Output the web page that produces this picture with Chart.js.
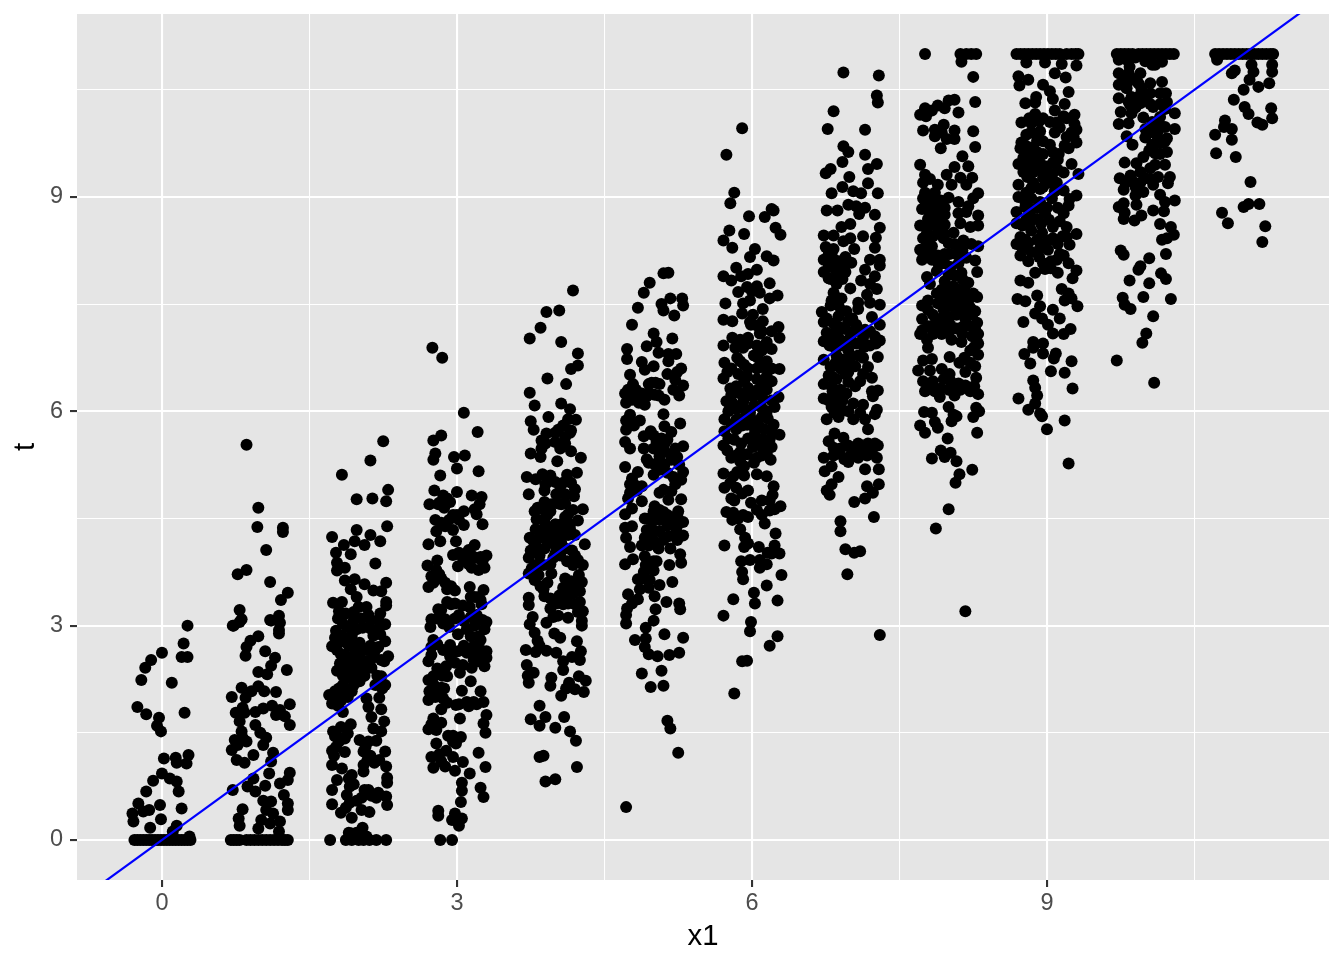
<!DOCTYPE html>
<html>
<head>
<meta charset="utf-8">
<title>t vs x1</title>
<script src="https://cdn.jsdelivr.net/npm/chart.js@4"></script>
<style>
  html, body { margin: 0; padding: 0; background: #fff; }
  canvas { display: block; }
</style>
</head>
<body>
<canvas id="chart" width="1344" height="960"></canvas>
<script>
// points, one list per x1 group: [x1 + jitter, t]
const group0 = [[.26,3],[.22,2.75],[.2,2.56],[.26,2.56],[0,2.62],[-.11,2.52],[-.17,2.41],[-.21,2.24],[.1,2.2],[-.25,1.86],[-.16,1.76],[-.03,1.71],[-.05,1.6],[-.01,1.52],[.23,1.78],[.27,1.19],[.14,1.15],[.02,1.14],[.15,1.08],[.25,1.07],[0,.93],[-.09,.83],[.08,.86],[.15,.82],[.17,.68],[-.16,.68],[-.24,.51],[-.02,.49],[.2,.44],[-.3,.37],[-.13,.42],[-.19,.4],[-.29,.26],[-.01,.29],[-.12,.17],[.15,.2],[.11,.12],[.28,.05],
  [-.28,0],[-.25,0],[-.22,0],[-.19,0],[-.16,0],[-.13,0],[-.1,0],[-.07,0],[-.04,0],[-.01,0],[.02,0],[.05,0],[.08,0],[.11,0],[.14,0],[.17,0],[.2,0],[.23,0],[.26,0],[.29,0]];
const group1 = [[.86,5.53],[.98,4.65],[.97,4.38],[1.23,4.37],[1.23,4.31],[1.06,4.06],[.77,3.72],[.86,3.78],[1.1,3.61],[1.28,3.46],[1.21,3.36],[.79,3.22],[.73,3],[.79,3.05],[1.1,3.08],[1.17,3.08],[1.19,2.94],[.72,3],[.81,3.09],[1.19,3.14],[1.11,3.07],[1.2,3.04],[1.19,2.89],[.98,2.85],[.9,2.79],[.86,2.7],[.85,2.58],[1.05,2.64],[1.15,2.55],[1.11,2.44],[1.27,2.38],[.98,2.35],[1.07,2.32],[.81,2.13],[.98,2.15],[.91,2.08],[1.04,2.08],[1.16,2.07],[.71,2],[.85,1.99],[1.3,1.9],[1.12,1.88],[1.03,1.84],[.95,1.79],[.82,1.85],[.75,1.78],[1.2,1.82],[1.25,1.73],[1.3,1.61],[1.16,1.75],[.79,1.66],[.84,1.78],[.95,1.61],[.81,1.52],[.74,1.4],[.82,1.43],[.77,1.33],[.86,1.38],[1,1.5],[1.06,1.43],[1.03,1.33],[.71,1.26],[.93,1.19],[.76,1.12],[.84,1.08],[1.13,1.22],[1.11,1.1],[1.09,.93],[1.3,.94],[1.28,.84],[1.2,.79],[.93,.86],[.87,.75],[1.05,.76],[.95,.68],[.72,.7],[1.24,.63],[1.03,.55],[1.11,.54],[1.28,.51],[.82,.43],[1.06,.42],[1.28,.42],[1.13,.37],[.78,.3],[.79,.2],[1.2,.26],[1.01,.28],[.98,.16],[1.1,.23],[1.19,.12],
  [.7,0],[.73,0],[.76,0],[.79,0],[.86,0],[.9,0],[.94,0],[.98,0],[1.02,0],[1.06,0],[1.1,0],[1.14,0],[1.18,0],[1.22,0],[1.25,0],[1.28,0]];
const group2 = [[2.25,5.58],[2.12,5.31],[1.83,5.11],[2.3,4.9],[1.98,4.77],[2.14,4.78],[2.28,4.74],[2.29,4.39],[1.73,4.24],[1.98,4.34],[2.12,4.27],[1.96,4.18],[1.85,4.13],[2.06,4.13],[2.22,4.18],[1.77,4.02],[1.92,4],[2.17,3.87],[1.78,3.88],[1.86,3.81],[1.78,3.77],[1.86,3.63],[1.96,3.65],[2.06,3.58],[2.28,3.6],[1.92,3.51],[2.15,3.49],[2.23,3.48],[1.98,3.4],[1.74,3.32],[1.83,3.33],[2.28,3.33],[2,3.26],[2.08,3.26],[2.28,3.28],[2.22,3.17],[2.1,3.15],[1.79,3.1],[1.95,3.07],[2.27,3.02],[1.77,2.93],[1.88,2.98],[1.98,2.95],[2.2,2.95],[1.83,2.86],[1.93,2.86],[2.15,2.86],[2.27,2.78],[1.73,2.71],[1.79,2.76],[1.88,2.76],[2.01,2.76],[2.08,2.66],[2.17,2.66],[1.86,2.59],[1.95,2.59],[2.01,2.57],[2.3,2.57],[2.23,2.52],[2.12,2.52],[1.93,2.48],[2,2.45],[1.78,2.37],[1.88,2.38],[2.13,2.41],[1.95,2.34],[1.88,2.27],[2.01,2.22],[2.23,2.29],[2.27,2.17],[2.17,2.17],[1.84,2.17],[1.95,2.17],[1.74,2],[1.89,2],[2.08,1.98],[2.21,1.99],[1.73,1.91],[1.79,1.88],[1.84,1.79],[2.1,1.86],[2.23,1.83],[2.13,1.72],[2.26,1.66],[1.74,1.52],[1.89,1.49],[2.15,1.56],[2.23,1.52],[2.01,1.4],[1.79,1.44],[2.18,1.39],[2.1,1.38],[1.73,1.25],[1.86,1.23],[2.05,1.24],[2.27,1.24],[1.73,1.05],[1.83,1],[2.16,1.08],[2.05,1.05],[2.28,1.03],[2.05,.96],[1.93,.91],[1.78,.84],[2.29,.87],[2.29,.8],[1.91,.75],[1.73,.7],[2.06,.7],[1.88,.63],[2.18,.59],[2.28,.61],[1.73,.5],[1.91,.52],[2.03,.59],[2.29,.49],[2.03,.42],[2.11,.39],[1.82,.38],[1.93,.31],[2.04,.17],[1.93,.09],
  [1.71,0],[1.87,0],[1.93,0],[2,0],[2.05,0],[2.11,0],[2.18,0],[2.28,0],
  [1.8,3.2],[1.87,3.17],[1.95,3.19],[2.03,3.1],[2.12,3.08],[2.2,3.08],[1.84,3.03],[1.92,2.98],[2.04,2.97],[2.12,2.96],[2.22,2.88],[1.76,2.83],[1.83,2.78],[1.9,2.72],[1.97,2.72],[2.04,2.68],[2.12,2.72],[2.2,2.7],[1.78,2.66],[1.82,2.6],[1.89,2.52],[1.98,2.52],[2.06,2.5],[2.16,2.56],[2.26,2.5],[1.81,2.47],[1.86,2.42],[1.94,2.41],[2.02,2.38],[2.08,2.42],[1.84,2.3],[1.92,2.3],[1.98,2.27],[2.06,2.3],[2.19,2.3],[1.76,2.08],[1.8,2.12],[1.86,2.1],[1.93,2.08],[2.24,2.12],[1.78,2],[1.82,1.95],[1.7,2.03],[1.92,1.62],[1.82,1.58],[1.76,1.45],[1.8,1.38],[1.86,1.42],[2.07,1.3],[2.12,1.18],[2.09,1.12],[2.21,1.12],[1.75,1.18],[1.77,1.3],[1.9,.86],[1.95,.78],[2.1,.7],[2.13,.62],[2.2,.66],[1.98,.55],[1.87,.45],[1.98,.1],[2.08,.05],[1.9,.1]];
const group3 = [[2.75,6.89],[2.85,6.75],[3.07,5.98],[3.21,5.71],[2.84,5.66],[2.76,5.59],[2.78,5.41],[2.76,5.32],[2.97,5.36],[3.08,5.38],[3,5.2],[3.22,5.16],[2.83,5.1],[2.77,4.89],[3,4.87],[3.15,4.82],[2.86,4.82],[3.25,4.8],[2.72,4.7],[2.81,4.7],[2.93,4.73],[3.23,4.7],[3.18,4.63],[3.07,4.6],[2.96,4.55],[3.2,4.56],[2.78,4.48],[3.07,4.41],[3.26,4.42],[2.88,4.39],[2.96,4.34],[2.79,4.32],[2.71,4.14],[2.83,4.18],[2.99,4.18],[3.18,4.13],[2.96,3.99],[3.12,4.06],[3.3,3.98],[3.05,3.97],[3.2,3.95],[2.8,3.91],[2.7,3.84],[3.01,3.83],[3.15,3.81],[3.28,3.81],[2.79,3.78],[2.84,3.66],[2.74,3.69],[2.71,3.54],[2.9,3.51],[2.98,3.49],[3.13,3.54],[3.27,3.5],[3.22,3.4],[2.9,3.33],[2.98,3.31],[3.13,3.26],[2.81,3.23],[3.25,3.3],[2.74,3.09],[2.88,3.09],[3.3,3.05],[2.73,2.98],[3.07,3.06],[3.28,2.95],[3.18,3],[3.01,2.88],[3.22,2.85],[2.76,2.8],[2.93,2.73],[3.17,2.71],[3.3,2.64],[2.74,2.59],[3.01,2.64],[3.3,2.55],[2.71,2.5],[2.93,2.57],[3.17,2.52],[3.06,2.45],[3.28,2.43],[2.89,2.43],[3.15,2.41],[3.03,2.34],[2.76,2.29],[2.9,2.29],[2.71,2.24],[3.14,2.22],[2.84,2.13],[2.76,2.1],[2.71,1.96],[3.05,2.09],[3.24,2.08],[2.86,1.98],[2.78,2],[2.99,1.89],[3.1,1.93],[3.17,1.93],[3.27,1.93],[2.84,1.83],[3.3,1.75],[3.03,1.7],[3.27,1.63],[2.76,1.7],[2.84,1.64],[2.71,1.55],[2.79,1.54],[3.29,1.5],[2.91,1.46],[2.96,1.46],[3.04,1.44],[2.99,1.35],[2.79,1.35],[2.89,1.25],[3.22,1.22],[2.74,1.16],[2.96,1.16],[3.06,1.09],[2.76,1.01],[2.88,1.03],[3.29,1.02],[2.98,.97],[3.13,.93],[3.05,.8],[3.24,.73],[3.05,.69],[3.27,.6],[3.04,.53],[2.81,.41],[2.81,.34],[2.98,.37],[3.05,.3],[3.02,.2],[2.95,.28],[2.83,0],[2.95,0],
  [2.82,4.72],[2.9,4.78],[2.87,4.65],[3,4.55],[3.02,4.48],[2.84,4.44],[2.92,4.48],[3.14,4],[3.08,3.92],[3.02,4.02],[3.26,3.9],[3.24,3.96],[3.12,3.86],[3.22,3.78],[2.88,3.6],[2.94,3.55],[2.82,3.72],[2.76,3.6],[3.18,3.4],[3.24,3.36],[3.14,3.4],[2.84,3.22],[2.94,3.3],[3.06,3.28],[3.02,3.15],[2.98,3.1],[3.14,3.12],[3.2,3.15],[3.26,3.08],[2.8,3.1],[2.86,3.03],[2.92,2.98],[3.1,2.95],[3.14,2.85],[3.24,2.8],[2.8,2.74],[2.86,2.66],[2.74,2.7],[3.07,2.72],[3.1,2.62],[3.2,2.6],[3.24,2.66],[2.96,2.62],[3.22,2.5],[2.98,2.48],[2.8,2.4],[2.85,2.3],[2.76,2.18],[2.72,2.08],[2.82,2.05],[2.87,2.12],[2.9,1.92],[3.02,1.9],[3.12,1.87],[3.2,1.9],[2.74,1.62],[2.96,1.38],[2.82,1.2],[2.84,1.1]];
const group4 = [[4.18,7.69],[3.91,7.39],[4.04,7.41],[3.85,7.17],[3.74,7.02],[4.06,6.97],[4.23,6.81],[4.23,6.64],[4.16,6.59],[3.92,6.46],[4.11,6.38],[3.74,6.26],[3.79,6.08],[4.06,6.11],[4.15,6.03],[3.93,5.92],[3.75,5.86],[4.21,5.88],[4.13,5.89],[3.78,5.74],[4.03,5.74],[4.16,5.73],[3.91,5.69],[4,5.57],[4.1,5.64],[3.86,5.59],[4.05,5.48],[3.75,5.41],[3.86,5.48],[4.16,5.44],[3.85,5.36],[4.26,5.35],[4.22,5.14],[3.71,5.08],[3.87,5.12],[3.8,5.05],[4.12,5.11],[4,5.01],[4.08,5],[4.2,4.91],[3.89,4.89],[3.73,4.84],[4.01,4.84],[4.1,4.84],[4.19,4.81],[3.89,4.73],[4.03,4.71],[4.1,4.71],[4.28,4.63],[3.79,4.6],[3.88,4.62],[3.95,4.6],[4.13,4.56],[3.81,4.49],[3.89,4.49],[4.23,4.47],[4,4.42],[4.06,4.42],[4.15,4.42],[3.86,4.34],[4.13,4.27],[3.74,4.23],[3.84,4.23],[3.95,4.25],[4.2,4.27],[4.03,4.19],[4.3,4.14],[3.81,4.1],[3.89,4.08],[4.1,4.08],[3.73,3.95],[3.84,3.98],[4,4.01],[4.2,3.98],[4.23,3.92],[4.12,3.9],[3.95,3.86],[3.73,3.73],[3.83,3.71],[3.96,3.73],[4.24,3.71],[4.1,3.66],[3.79,3.64],[4.27,3.61],[4.08,3.53],[3.88,3.51],[4.17,3.51],[4.25,3.48],[3.73,3.39],[3.89,3.41],[4.12,3.44],[3.73,3.29],[4.25,3.33],[4.01,3.31],[4.13,3.31],[3.95,3.24],[4.23,3.19],[4.03,3.14],[4.13,3.11],[3.91,3.04],[4.27,3.07],[4.27,3],[3.74,3.02],[3.79,2.9],[3.99,2.89],[4.05,2.83],[3.82,2.79],[3.7,2.66],[3.8,2.63],[3.91,2.65],[4.01,2.62],[4.26,2.64],[4.17,2.56],[4.25,2.52],[3.71,2.45],[3.78,2.34],[4.08,2.38],[3.73,2.2],[3.96,2.27],[4.24,2.29],[4.31,2.23],[3.95,2.16],[4.11,2.12],[4.2,2.11],[4.29,2.07],[4.06,2.02],[3.84,1.88],[3.75,1.69],[3.9,1.72],[4.09,1.72],[3.84,1.6],[4,1.57],[4.15,1.52],[4.21,1.39],[3.84,1.16],[3.88,1.18],[4.22,1.02],[4,.85],[3.9,.82],
  [4,5.7],[4.15,5.7],[4.08,5.8],[3.9,5.55],[4.1,5.55],[4.02,5.3],[3.95,5.1],[4.16,5],[3.9,4.98],[4.05,4.95],[3.82,4.65],[3.92,4.55],[3.96,4.7],[4.06,4.7],[4.18,4.62],[4.1,4.52],[3.9,4.4],[3.97,4.35],[4.05,4.3],[3.8,4.35],[3.86,4.3],[4.15,4.35],[3.92,4.18],[4,4.12],[4.06,4.16],[3.78,4.18],[3.75,4.05],[3.84,4.05],[4.17,4.05],[4.05,3.98],[3.98,3.95],[4.28,3.85],[4.18,3.85],[3.88,3.85],[3.8,3.85],[3.76,3.8],[4.16,3.62],[4.24,3.58],[3.85,3.55],[3.92,3.6],[4.18,3.45],[4.04,3.42],[3.95,3.38],[4.08,3.3],[4.2,3.3],[4.28,3.2],[3.98,3.12],[3.77,3.12],[3.84,2.72],[4.22,2.78],[4.08,2.5],[3.72,2.3],[4.14,2.2]];
const group5 = [[5.15,7.94],[5.1,7.93],[4.96,7.8],[4.9,7.66],[4.84,7.45],[4.78,7.21],[5.08,7.5],[5.17,7.58],[5.29,7.58],[5.1,7.41],[5.3,7.48],[5.21,7.34],[5,7.09],[5.19,7.02],[5.03,6.97],[4.93,6.91],[4.73,6.87],[4.73,6.73],[5.05,6.82],[5.15,6.8],[5.23,6.8],[4.88,6.69],[5.15,6.7],[5,6.63],[5.28,6.6],[4.91,6.58],[4.76,6.51],[5.22,6.44],[4.95,6.38],[5.06,6.38],[5.3,6.36],[4.79,6.38],[4.71,6.25],[5.26,6.22],[4.83,6.23],[4.93,6.21],[5.01,6.23],[5.11,6.16],[4.72,6.12],[4.78,6.16],[4.91,6.09],[5.1,5.96],[4.72,5.87],[4.86,5.87],[4.78,5.85],[5.27,5.83],[5.11,5.79],[4.72,5.74],[4.97,5.72],[5.18,5.71],[4.9,5.65],[4.71,5.57],[5.03,5.57],[5.11,5.55],[5.3,5.51],[4.76,5.48],[4.9,5.48],[5.22,5.48],[5.17,5.4],[4.93,5.33],[5.06,5.37],[4.71,5.22],[5.01,5.26],[5.11,5.26],[4.84,5.15],[5.3,5.15],[5,5.11],[5.2,5.08],[4.78,5.06],[5.28,5.04],[4.76,4.98],[5.22,4.98],[4.76,4.86],[4.83,4.89],[5.06,4.86],[5.28,4.77],[4.88,4.74],[5.15,4.76],[5.01,4.67],[4.78,4.64],[4.71,4.56],[5.25,4.6],[5.1,4.59],[4.91,4.5],[5,4.47],[5.17,4.45],[5.3,4.45],[4.71,4.37],[4.78,4.39],[4.93,4.34],[5.06,4.32],[5.23,4.32],[4.72,4.23],[4.91,4.23],[5,4.19],[5.15,4.25],[5.3,4.26],[4.76,4.1],[5.05,4.08],[5.17,4.08],[4.91,3.97],[5.27,4],[4.79,3.93],[4.71,3.86],[5.28,3.88],[5.03,3.9],[5.16,3.85],[4.9,3.75],[5,3.77],[4.9,3.66],[5.19,3.61],[5.06,3.57],[4.86,3.51],[4.95,3.53],[4.74,3.44],[5.01,3.41],[4.84,3.37],[5.13,3.33],[5.26,3.31],[4.78,3.31],[4.73,3.24],[5.27,3.23],[5.02,3.23],[4.72,3.15],[4.72,3.03],[5,3.07],[4.92,2.97],[5.11,2.88],[5.3,2.83],[4.81,2.8],[4.92,2.82],[4.91,2.7],[4.95,2.6],[5.26,2.62],[5.16,2.59],[5.04,2.57],[5.08,2.37],[4.88,2.33],[5.1,2.16],[4.97,2.14],[5.14,1.67],[5.17,1.56],[5.25,1.22],[4.72,.46],
  [4.74,6.3],[4.82,6.3],[4.88,6.25],[4.96,6.25],[5.05,6.22],[4.75,6.2],[4.85,6.12],[4.98,6.4],[5.02,6.4],[5.14,6.52],[5.24,6.55],[5.2,6.3],[4.76,5.95],[4.8,5.8],[5,5.66],[5.08,5.62],[5.14,5.6],[5,5.48],[5.1,5.48],[5.2,5.4],[4.95,5.28],[5.26,5.25],[5.18,5.32],[5.24,5.36],[5.06,5.18],[5.14,5.14],[4.8,4.98],[4.88,4.95],[4.74,4.78],[5.1,4.9],[5.18,4.88],[5.06,4.62],[5.14,4.55],[5.24,4.55],[4.95,4.5],[5,4.6],[5.14,4.4],[5.24,4.4],[4.98,4.36],[5.06,4.48],[4.96,4.25],[5.1,4.2],[4.88,4.12],[4.95,4.12],[5.24,4.2],[5,3.9],[4.92,3.85],[4.96,3.64],[4.84,3.65]];
const group6 = [[5.9,9.96],[5.74,9.59],[5.82,9.06],[5.78,8.91],[6.2,8.83],[5.97,8.73],[6.13,8.72],[6.22,8.81],[6.24,8.57],[5.77,8.53],[5.92,8.48],[6.29,8.47],[5.71,8.39],[5.8,8.29],[6.03,8.27],[5.98,8.16],[6.15,8.17],[6.22,8.11],[5.84,8.01],[5.71,7.89],[6.05,7.98],[5.96,7.92],[5.79,7.83],[5.89,7.89],[6.18,7.79],[5.86,7.67],[6.08,7.66],[6.26,7.62],[6.18,7.58],[5.98,7.55],[5.73,7.51],[5.91,7.51],[6.11,7.43],[6.01,7.35],[5.9,7.37],[5.71,7.28],[5.8,7.26],[6.11,7.26],[5.99,7.21],[6.27,7.18],[6.2,7.12],[6.28,7.03],[6.08,7.09],[5.8,7.03],[5.96,7.03],[6.15,6.97],[5.71,6.92],[5.83,6.89],[5.91,6.89],[6.05,6.92],[6.2,6.87],[6.06,6.75],[6.15,6.7],[5.72,6.68],[5.88,6.7],[5.79,6.6],[6.28,6.59],[5.96,6.6],[6.05,6.6],[5.71,6.46],[5.86,6.52],[6.15,6.49],[5.95,6.49],[5.84,6.35],[6.13,6.38],[5.96,6.33],[6.27,6.2],[5.79,6.23],[5.74,6.14],[5.91,6.13],[6.01,6.21],[6.11,6.18],[6.2,6.15],[6.23,6.06],[5.78,6.06],[5.84,6.03],[6.15,6],[5.72,5.89],[5.88,5.89],[5.98,5.92],[6.1,5.92],[5.79,5.81],[6.22,5.81],[5.95,5.81],[5.72,5.72],[5.84,5.75],[6.13,5.75],[6.28,5.67],[6.03,5.69],[6.18,5.61],[5.71,5.52],[5.89,5.55],[6.01,5.5],[6.11,5.61],[5.79,5.35],[5.88,5.43],[6.15,5.41],[6.05,5.35],[6.19,5.32],[5.92,5.23],[5.71,5.13],[5.81,5.09],[6.05,5.12],[6.15,5.09],[5.72,4.93],[5.84,4.93],[5.96,4.89],[6.22,4.95],[6.21,4.83],[5.79,4.78],[5.99,4.72],[6.1,4.75],[6.29,4.67],[5.74,4.59],[5.81,4.58],[5.91,4.55],[5.96,4.52],[6.18,4.61],[6.23,4.63],[6.13,4.43],[5.88,4.35],[5.93,4.23],[6.24,4.29],[5.96,4.15],[5.72,4.12],[6.07,4.1],[6.23,4.12],[6.28,4.01],[6.2,4.01],[5.89,3.9],[5.98,3.92],[6.08,3.92],[6.15,3.86],[6.08,3.81],[5.9,3.75],[5.91,3.65],[6.3,3.71],[6.15,3.56],[6.02,3.46],[5.81,3.37],[6.26,3.35],[6.03,3.31],[5.71,3.14],[5.99,3.05],[5.98,2.92],[6.26,2.85],[6.18,2.72],[5.95,2.51],[5.9,2.5],[5.82,2.05],
  [5.95,7.74],[6.05,7.75],[6,7.68],[5.98,7.25],[6.05,7.2],[6.1,7.12],[5.88,7],[5.96,6.95],[6.1,6.85],[6.02,6.78],[5.85,6.75],[5.92,6.65],[6.1,6.62],[6.2,6.6],[5.75,6.55],[5.92,6.42],[6.05,6.45],[6.2,6.42],[5.78,6.32],[6.06,6.3],[6.15,6.3],[5.88,6.25],[5.96,6.22],[5.8,6.12],[5.93,6.02],[6.02,6.08],[6.1,6.05],[5.76,6],[5.98,5.98],[6.04,5.86],[6.16,5.9],[5.84,5.88],[5.9,5.8],[6.02,5.78],[6.08,5.78],[6.2,5.72],[5.76,5.62],[5.82,5.6],[5.96,5.62],[6.04,5.6],[6.1,5.5],[6.2,5.5],[5.75,5.45],[5.84,5.38],[5.95,5.4],[6.1,5.38],[6.02,5.28],[5.88,5.3],[5.85,5.15],[5.92,5.1],[5.78,5],[5.9,4.85],[5.82,4.75],[6.18,4.75],[6.05,4.62],[6.1,4.55],[5.86,4.5],[5.8,4.48],[6.16,4.02],[5.92,4.1]];
const group7 = [[6.93,10.74],[7.29,10.7],[7.27,10.42],[7.28,10.32],[6.83,10.2],[6.77,9.95],[7.15,9.94],[6.93,9.71],[6.98,9.63],[7.15,9.59],[6.92,9.49],[7.27,9.46],[7.18,9.39],[6.8,9.39],[6.75,9.33],[6.99,9.28],[7.18,9.19],[6.92,9.14],[6.81,9.05],[7.03,9.08],[7.11,9.05],[7.28,9.05],[6.98,8.89],[7.06,8.87],[7.15,8.85],[6.76,8.81],[6.87,8.81],[7.25,8.75],[7.09,8.76],[7,8.62],[6.91,8.58],[7.3,8.57],[6.73,8.46],[6.83,8.46],[7.13,8.45],[7,8.42],[7.26,8.43],[6.93,8.38],[7.25,8.29],[6.83,8.27],[7.04,8.27],[6.95,8.16],[6.73,8.12],[7.2,8.12],[7.3,8.12],[7.01,8.08],[6.73,7.95],[6.83,8.01],[7.15,7.98],[7.3,8.04],[6.86,7.89],[6.95,7.95],[6.78,7.86],[7.25,7.89],[7.11,7.83],[7.2,7.78],[7,7.72],[6.83,7.66],[7.27,7.71],[6.91,7.58],[7.17,7.63],[7.08,7.52],[6.81,7.55],[7.2,7.52],[7.3,7.49],[6.71,7.39],[6.91,7.41],[7.08,7.43],[7.22,7.32],[6.73,7.25],[6.83,7.23],[6.98,7.26],[7.06,7.21],[7.3,7.21],[6.89,7.18],[7.2,7.12],[6.73,6.98],[6.88,7.03],[7,7.03],[7.13,7.03],[7.3,6.99],[6.79,6.92],[6.93,6.92],[7.2,6.92],[6.73,6.72],[7.28,6.76],[6.86,6.78],[7.13,6.75],[6.96,6.69],[7.05,6.63],[6.81,6.49],[7.13,6.52],[6.95,6.52],[7.22,6.47],[6.73,6.38],[6.98,6.41],[7.05,6.35],[6.81,6.35],[7.28,6.29],[7.22,6.28],[6.73,6.18],[6.88,6.21],[7.23,6.21],[7.03,6.11],[7.13,6.09],[6.81,6.06],[7.27,6.02],[6.93,6.01],[6.76,5.89],[7.03,5.89],[6.88,5.92],[7.15,5.89],[7.25,5.96],[7.18,5.75],[6.84,5.69],[6.93,5.63],[6.78,5.58],[7.25,5.55],[7.08,5.55],[7.18,5.55],[6.98,5.52],[6.83,5.49],[7.28,5.52],[6.89,5.41],[7.05,5.43],[6.73,5.35],[6.83,5.38],[7.17,5.38],[7.27,5.35],[6.98,5.29],[6.74,5.16],[6.81,5.23],[7.15,5.19],[7.29,5.19],[6.88,5.08],[6.81,4.98],[7.29,4.98],[6.76,4.89],[7.17,4.95],[6.79,4.83],[7.23,4.86],[7.15,4.78],[7.04,4.73],[7.24,4.52],[6.9,4.46],[6.9,4.32],[6.95,4.07],[7.04,4.02],[7.1,4.04],[6.97,3.72],[7.3,2.87],
  [6.75,8.3],[6.78,8.2],[6.82,8.15],[6.88,8.1],[6.78,8.02],[6.88,7.98],[6.95,8.05],[6.8,7.85],[6.86,7.78],[6.92,7.85],[6.85,7.6],[6.88,7.48],[6.8,7.48],[6.76,7.3],[6.88,7.33],[6.96,7.4],[7.02,7.3],[6.85,7.12],[6.95,7.15],[7.05,7.12],[7.15,7.14],[7.25,7.05],[6.76,7.1],[6.82,7],[6.96,6.98],[7.06,6.95],[7.14,6.9],[7.26,6.95],[6.85,6.88],[6.98,6.85],[6.92,6.72],[7,6.75],[7.08,6.78],[6.85,6.68],[6.8,6.62],[6.9,6.6],[6.98,6.55],[7.18,6.62],[6.78,6.5],[7.1,6.42],[6.86,6.45],[6.82,6.28],[6.9,6.3],[6.96,6.25],[6.78,6.15],[6.86,6.1],[6.92,6.15],[6.84,5.98],[6.98,6],[7.1,5.98],[6.9,5.48],[7.12,5.48],[7,5.38],[7.08,5.35],[6.94,5.33],[7.22,5.42]];
const group8 = [[7.76,11],[8.12,11],[8.18,11],[8.23,11],[8.28,11],[8.13,10.89],[8.25,10.68],[8.06,10.36],[8,10.35],[8.27,10.33],[7.76,10.24],[7.89,10.28],[7.96,10.24],[7.83,10.21],[7.71,10.15],[7.77,10.13],[8.1,10.18],[7.95,10.01],[7.74,9.93],[7.86,9.94],[8.06,9.93],[8.25,9.92],[7.93,9.9],[7.86,9.85],[7.98,9.81],[8.06,9.81],[8.27,9.7],[7.92,9.68],[8.14,9.57],[7.71,9.45],[8.06,9.42],[8.2,9.43],[7.76,9.31],[7.98,9.31],[8.24,9.27],[8.12,9.27],[7.81,9.25],[7.74,9.2],[7.89,9.17],[8.03,9.17],[8.18,9.17],[7.76,9.06],[8.3,9.05],[7.86,9.06],[8.25,8.98],[8,8.99],[7.74,8.98],[7.89,8.9],[8.1,8.93],[8.2,8.87],[7.73,8.83],[7.81,8.82],[7.96,8.85],[8.1,8.77],[8.3,8.74],[8.18,8.79],[7.89,8.69],[7.79,8.69],[7.71,8.6],[7.84,8.61],[7.96,8.61],[8.3,8.6],[8.12,8.63],[8.22,8.58],[7.78,8.5],[7.89,8.5],[8.05,8.5],[7.74,8.42],[7.95,8.42],[8.15,8.39],[7.71,8.26],[7.83,8.31],[8.06,8.34],[8.23,8.34],[8.3,8.31],[7.73,8.12],[7.89,8.18],[8.01,8.2],[7.83,8.12],[8.18,8.15],[8.27,8.11],[7.96,8.07],[8.1,8.07],[8.29,7.95],[7.78,7.88],[7.88,7.96],[8,7.91],[8.13,7.94],[7.81,7.78],[8.2,7.8],[7.93,7.7],[8.05,7.75],[8.29,7.6],[8.15,7.64],[8,7.59],[7.79,7.55],[7.73,7.48],[7.89,7.51],[8.22,7.45],[8.1,7.45],[7.95,7.42],[7.79,7.42],[8.27,7.4],[7.73,7.29],[7.89,7.29],[8.01,7.32],[8.17,7.29],[8.29,7.24],[7.73,7.13],[7.79,7.19],[7.95,7.21],[8.08,7.16],[8.22,7.19],[7.71,7.08],[7.93,7.08],[8.3,7.08],[8.03,7],[8.13,6.97],[8.3,6.95],[7.79,6.89],[8.22,6.85],[8.3,6.79],[8.01,6.76],[7.83,6.73],[7.74,6.71],[8.22,6.68],[8.11,6.68],[7.69,6.57],[7.81,6.57],[7.93,6.59],[8.01,6.52],[8.27,6.63],[8.17,6.55],[8.28,6.47],[7.74,6.42],[7.84,6.42],[8.1,6.39],[8.17,6.36],[7.76,6.28],[7.86,6.28],[8,6.3],[8.22,6.28],[8.3,6.24],[7.91,6.2],[8.06,6.22],[8.28,6.05],[8,6.06],[7.75,5.99],[7.83,5.98],[8.31,6],[8.05,5.95],[8.08,5.93],[8.25,5.92],[7.86,5.85],[8.03,5.86],[7.71,5.8],[7.89,5.77],[7.76,5.7],[8.29,5.7],[7.99,5.62],[7.92,5.45],[8.02,5.42],[7.83,5.34],[7.96,5.36],[8.08,5.3],[8.24,5.18],[8.11,5.12],[8.07,5],[8,4.63],[7.87,4.36],[8.17,3.2],
  [7.76,8.95],[7.82,8.95],[7.92,8.95],[7.8,8.8],[7.88,8.8],[7.96,8.75],[7.78,8.6],[7.9,8.62],[7.84,8.45],[7.96,8.48],[8,8.35],[8.12,8.33],[7.78,8.35],[7.8,8.2],[7.96,8.2],[8.08,8.2],[8.14,8.25],[7.74,8.22],[7.9,8.05],[8.02,8.02],[8.06,7.9],[8.14,7.85],[7.96,7.82],[8,7.72],[8.1,7.7],[8.16,7.72],[7.88,7.65],[7.94,7.58],[8.06,7.6],[8.12,7.55],[8.2,7.55],[8.25,7.65],[8,7.48],[8.06,7.45],[8.16,7.42],[7.84,7.35],[7.96,7.35],[8.08,7.35],[8.24,7.35],[7.84,7.2],[7.9,7.18],[8.02,7.2],[8.14,7.18],[8.27,7.15],[7.84,7.08],[8,7.1],[8.14,7.08],[8.24,7.05],[7.78,7],[8.26,6.9],[8.16,6.75],[7.95,6.45],[8.02,6.42],[7.8,6.32],[7.92,6.32],[8.04,6.3],[8.12,6.3],[8.26,6.35]];
const group9 = [[8.69,11],[8.73,11],[8.77,11],[8.81,11],[8.85,11],[8.89,11],[8.93,11],[8.97,11],[9.01,11],[9.05,11],[9.09,11],[9.13,11],[9.2,11],[9.25,11],[9.29,11],[9.32,11],[8.79,10.88],[8.98,10.88],[9.15,10.86],[9.3,10.84],[9.08,10.73],[8.71,10.69],[8.81,10.64],[9.19,10.67],[8.72,10.56],[8.96,10.57],[9.22,10.47],[9.03,10.48],[8.89,10.4],[9.06,10.37],[8.78,10.31],[8.88,10.32],[9.18,10.3],[9.08,10.21],[9.28,10.15],[8.88,10.16],[8.74,10.04],[8.96,10.1],[9.17,10.13],[8.84,10.03],[9.03,10.05],[9.3,9.94],[9.13,9.97],[8.93,9.92],[8.79,9.87],[9.27,9.85],[9.2,9.84],[8.74,9.76],[9.03,9.73],[9.3,9.76],[8.9,9.79],[9.22,9.68],[8.73,9.68],[8.79,9.63],[8.9,9.63],[9.06,9.63],[8.71,9.46],[8.84,9.49],[9.11,9.52],[9.25,9.46],[8.98,9.43],[8.76,9.35],[8.9,9.38],[9.17,9.34],[9.32,9.32],[9.05,9.3],[8.96,9.27],[8.71,9.17],[8.86,9.2],[9.1,9.2],[8.93,9.11],[8.79,9.06],[8.71,9],[9.17,9.09],[9.3,9.02],[9.23,8.97],[8.84,8.98],[9.05,8.98],[8.78,8.93],[8.93,8.93],[9.11,8.85],[8.69,8.79],[8.84,8.82],[8.98,8.77],[9.17,8.77],[8.78,8.66],[8.9,8.69],[8.69,8.63],[9.13,8.66],[9.06,8.58],[8.84,8.53],[8.95,8.5],[9.3,8.48],[8.73,8.44],[9.2,8.44],[9.01,8.39],[8.69,8.34],[8.81,8.36],[9.11,8.34],[9.23,8.33],[8.93,8.28],[8.73,8.18],[8.84,8.23],[9.01,8.26],[8.81,8.1],[9.17,8.18],[9.1,8.12],[8.96,8.07],[9.22,8.07],[8.88,7.94],[9.3,7.97],[9.11,7.94],[8.98,7.99],[9.26,7.86],[8.73,7.83],[8.81,7.8],[9.15,7.71],[9.22,7.65],[8.9,7.62],[8.7,7.57],[8.78,7.54],[9.18,7.55],[9.25,7.58],[9.31,7.47],[8.93,7.47],[9.06,7.42],[8.88,7.37],[9.13,7.3],[8.95,7.3],[8.76,7.25],[9.01,7.21],[9.24,7.15],[9.06,7.09],[9.17,7.08],[8.86,6.97],[8.96,6.95],[8.77,6.8],[8.96,6.81],[8.86,6.89],[9.09,6.81],[9.07,6.74],[9.25,6.7],[8.83,6.67],[9.04,6.56],[9.18,6.54],[8.86,6.43],[8.88,6.33],[9.26,6.32],[8.9,6.22],[8.71,6.18],[8.88,6.11],[8.81,6.02],[8.93,5.97],[8.95,5.93],[9.18,5.87],[9,5.75],[9.22,5.27],
  [8.82,10.1],[8.92,10.06],[9.1,10.04],[9.2,10.1],[9.28,10.02],[9.08,9.9],[9.25,9.9],[8.84,9.9],[8.78,9.72],[8.86,9.7],[8.96,9.78],[9.18,9.72],[8.96,9.6],[9.12,9.6],[8.76,9.55],[8.82,9.55],[8.92,9.5],[9.06,9.48],[8.78,9.42],[8.86,9.35],[9,9.38],[9.11,9.38],[8.8,9.28],[9.02,9.2],[8.96,9.14],[8.84,9.12],[9.08,9.08],[8.78,8.86],[8.9,8.85],[9,8.85],[9.22,8.88],[8.8,8.72],[8.75,8.6],[8.82,8.62],[8.94,8.62],[9.02,8.68],[9.2,8.58],[8.78,8.4],[8.9,8.4],[8.96,8.3],[9.06,8.42],[9.16,8.45],[8.75,8.28],[8.92,8.16],[9.04,8.1],[9.13,8.2],[9.04,8]];
const group10 = [[9.71,11],[9.75,11],[9.79,11],[9.83,11],[9.87,11],[9.93,11],[9.97,11],[10.01,11],[10.05,11],[10.09,11],[10.13,11],[10.17,11],[10.21,11],[10.25,11],[10.29,11],[9.73,10.92],[9.81,10.92],[10.07,10.85],[10.17,10.89],[9.84,10.82],[9.73,10.73],[9.83,10.73],[9.95,10.73],[10.17,10.61],[9.84,10.63],[9.73,10.57],[9.93,10.59],[10.05,10.59],[9.81,10.52],[9.96,10.52],[10.21,10.45],[10.05,10.45],[9.73,10.38],[9.86,10.4],[9.95,10.43],[9.83,10.33],[9.95,10.31],[10.22,10.33],[10.08,10.26],[10.2,10.23],[9.75,10.19],[9.86,10.17],[10.3,10.17],[9.98,10.11],[10.15,10.12],[9.73,10.02],[9.83,10.03],[10.07,10.05],[10.17,9.98],[10.3,9.95],[9.81,9.85],[10,9.83],[10.12,9.89],[10.22,9.82],[9.87,9.73],[10.07,9.73],[10.15,9.75],[10.22,9.63],[10.1,9.61],[9.98,9.56],[9.79,9.48],[9.91,9.47],[10.2,9.45],[10.1,9.45],[9.95,9.35],[9.74,9.26],[10.25,9.28],[10.13,9.28],[9.86,9.24],[10,9.26],[10.23,9.19],[9.78,9.1],[9.9,9.14],[10.08,9.17],[9.98,9.07],[10.15,9.03],[10.3,8.95],[10.2,8.93],[9.78,8.91],[9.73,8.86],[9.91,8.89],[10.08,8.81],[10.19,8.8],[9.79,8.78],[9.96,8.74],[9.78,8.69],[9.89,8.67],[10.15,8.62],[10.26,8.58],[10.29,8.47],[10.17,8.4],[10.22,8.42],[9.75,8.25],[9.78,8.19],[10.21,8.2],[10.04,8.14],[9.95,8.03],[9.93,7.98],[10.16,7.93],[10.21,7.85],[9.84,7.83],[10.04,7.79],[9.98,7.6],[9.77,7.59],[10.26,7.57],[9.79,7.49],[9.85,7.43],[10.08,7.33],[10.01,7.09],[9.97,6.96],[9.71,6.71],[10.09,6.4],
  [9.9,10.95],[10,10.9],[10.1,10.85],[9.8,10.65],[9.9,10.65],[10,10.4],[9.9,10.25],[10.05,10.3],[9.85,10.28],[10.15,10.3],[10.15,10.45],[10.1,10],[10.2,9.98],[10,9.95],[10.08,9.9],[10.2,9.78],[10.12,9.78],[10.04,9.65],[10.15,9.6],[10.05,9.4],[9.85,9.3],[9.95,9.2],[10.06,9.25],[9.9,9.02],[9.8,9.2]];
const group11 = [[10.71,11],[10.75,11],[10.79,11],[10.83,11],[10.87,11],[10.91,11],[10.95,11],[10.99,11],[11.03,11],[11.07,11],[11.11,11],[11.15,11],[11.19,11],[11.23,11],[11.27,11],[11.3,11],[10.73,10.92],[11.29,10.85],[11.08,10.85],[11.29,10.75],[10.91,10.77],[11.1,10.75],[10.88,10.73],[11.06,10.64],[11.26,10.59],[11.15,10.54],[11,10.5],[10.9,10.36],[11.01,10.26],[11.28,10.24],[11.05,10.16],[11.29,10.1],[11.14,10.04],[11.19,10.01],[10.81,10.07],[10.8,9.98],[10.88,9.95],[10.71,9.87],[10.88,9.8],[10.72,9.61],[10.92,9.56],[11.07,9.21],[11.16,8.9],[11.05,8.9],[11,8.86],[10.78,8.78],[10.84,8.63],[11.22,8.59],[11.19,8.37]];

const lineEnds = [-2, 13]; // y = x reference line
const shownTicks = [0, 3, 6, 9];

const groups = [group0, group1, group2, group3, group4, group5, group6, group7, group8, group9, group10, group11];
const points = groups.flat().map((p) => ({ x: p[0], y: p[1] }));

const panelBackground = {
  id: "panelBackground",
  beforeDraw(chart) {
    const { ctx, chartArea: a } = chart;
    ctx.save();
    ctx.fillStyle = "#E5E5E5";
    ctx.fillRect(a.left, a.top, a.right - a.left, a.bottom - a.top);
    ctx.restore();
  },
};

const isMajor = (c) => c.tick && shownTicks.includes(c.tick.value);

function axis(label, tickPadding, titlePadding, extra) {
  return Object.assign(
    {
      type: "linear",
      border: { display: false },
      grid: {
        color: "#FFFFFF",
        lineWidth: (c) => (isMajor(c) ? 2.1 : 1.05),
        tickColor: (c) => (isMajor(c) ? "#333333" : "rgba(0,0,0,0)"),
        tickWidth: (c) => (isMajor(c) ? 2.1 : 0),
        tickLength: 7,
      },
      ticks: {
        stepSize: 1.5,
        includeBounds: false,
        autoSkip: false,
        maxRotation: 0,
        padding: tickPadding,
        color: "#4D4D4D",
        font: { family: "Liberation Sans", size: 23.5 },
        callback: (v) => (shownTicks.includes(v) ? String(v) : ""),
      },
      title: {
        display: true,
        text: label,
        color: "#000000",
        padding: titlePadding,
        font: { family: "Liberation Sans", size: 29.3 },
      },
    },
    extra
  );
}

new Chart(document.getElementById("chart"), {
  type: "scatter",
  data: {
    datasets: [
      {
        label: "y = x",
        data: lineEnds.map((v) => ({ x: v, y: v })),
        showLine: true,
        borderColor: "#0000FF",
        borderWidth: 2.2,
        pointRadius: 0,
      },
      {
        label: "t",
        data: points,
        backgroundColor: "#000000",
        borderWidth: 0,
        pointRadius: 6,
      },
    ],
  },
  options: {
    responsive: false,
    animation: false,
    layout: { padding: { top: 14, right: 15, left: 0, bottom: 0 } },
    plugins: { legend: { display: false }, tooltip: { enabled: false } },
    scales: {
      x: axis("x1", 2, { top: 0, bottom: 6 }, {
        min: -0.864,
        max: 11.868,
        afterFit: (s) => { s.height = 80; s.paddingLeft = 0; s.paddingRight = 0; },
      }),
      y: axis("t", 7, { top: 8, bottom: 0 }, {
        min: -0.56,
        max: 11.56,
        afterFit: (s) => { s.width = 77; s.paddingTop = 0; s.paddingBottom = 0; },
      }),
    },
  },
  plugins: [panelBackground],
});
</script>
</body>
</html>
